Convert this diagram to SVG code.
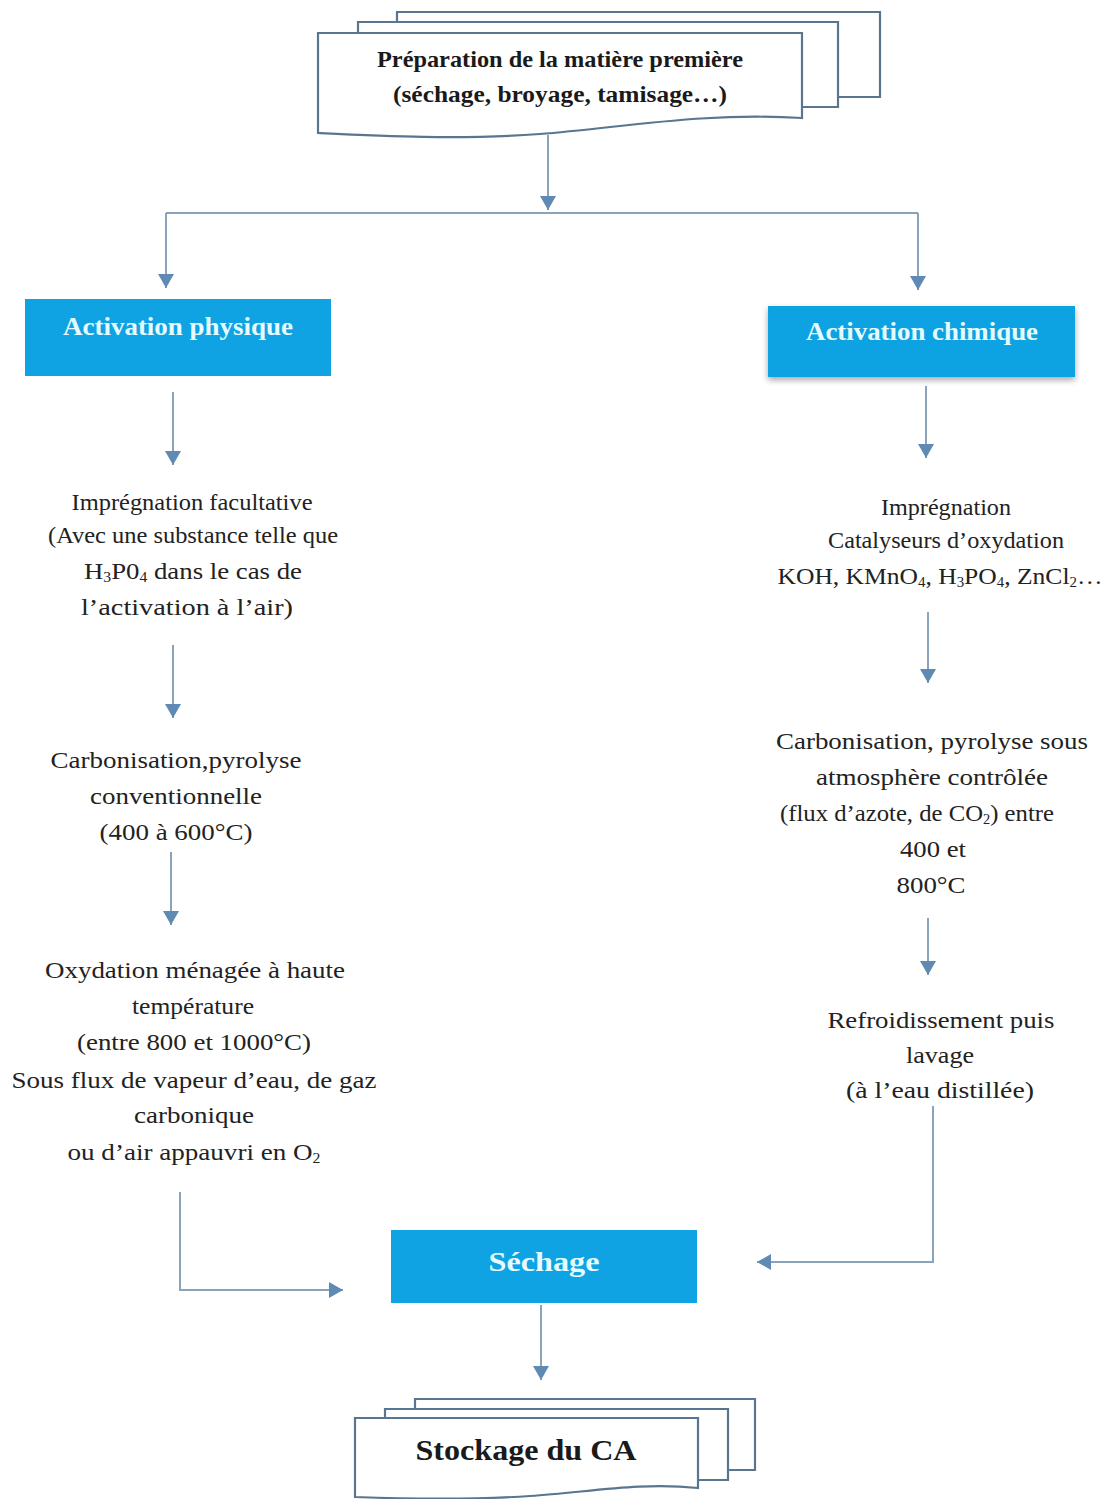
<svg xmlns="http://www.w3.org/2000/svg" width="1106" height="1499" viewBox="0 0 1106 1499">
<style>
.doc{fill:#fff;stroke:#5a7590;stroke-width:2.2}
.box{fill:#0fa3e3}
.ttl{font-family:"Liberation Serif",serif;font-weight:bold;fill:#e6fbff;text-anchor:middle}
.dt{font-family:"Liberation Serif",serif;font-weight:bold;fill:#1a1a1a;text-anchor:middle}
.t{font-family:"Liberation Serif",serif;font-size:24px;fill:#222;text-anchor:middle}
.sub{font-size:14px}
.c{fill:none;stroke:#8aa3bb;stroke-width:2}
</style>
<defs>
<marker id="a" viewBox="0 0 10 10" refX="10" refY="5" markerWidth="14" markerHeight="16" markerUnits="userSpaceOnUse" orient="auto" preserveAspectRatio="none">
<path d="M0,0 L10,5 L0,10 z" fill="#5f8ab3"/>
</marker>
<filter id="sh" x="-10%" y="-20%" width="120%" height="150%">
<feDropShadow dx="0" dy="3" stdDeviation="3" flood-color="#000" flood-opacity="0.35"/>
</filter>
</defs>
<rect width="1106" height="1499" fill="#fff"/>

<g id="node-preparation">
<path class="doc" d="M397,22 V12 H880 V97 H838"/>
<path class="doc" d="M358,33 V22 H838 V107 H802"/>
<path class="doc" d="M318,33 H802 V118 C700,112 620,128 540,134 C460,140 380,136 318,133 Z"/>
<text class="dt" x="560" y="67" font-size="24" textLength="366" lengthAdjust="spacingAndGlyphs">Préparation de la matière première</text>
<text class="dt" x="560" y="102" font-size="24" textLength="334" lengthAdjust="spacingAndGlyphs">(séchage, broyage, tamisage…)</text>
</g>

<g id="node-activation-physique">
<rect class="box" x="25" y="299" width="306" height="77"/>
<text class="ttl" x="178" y="335" font-size="25" textLength="230" lengthAdjust="spacingAndGlyphs">Activation physique</text>
</g>

<g id="node-activation-chimique">
<rect class="box" x="768" y="306" width="307" height="71" filter="url(#sh)"/>
<text class="ttl" x="922" y="340" font-size="25" textLength="232" lengthAdjust="spacingAndGlyphs">Activation chimique</text>
</g>

<g id="node-impregnation-facultative">
<text class="t" x="192" y="510" textLength="241" lengthAdjust="spacingAndGlyphs">Imprégnation facultative</text>
<text class="t" x="193" y="543" textLength="290" lengthAdjust="spacingAndGlyphs">(Avec une substance telle que</text>
<text class="t" x="193" y="579" textLength="218" lengthAdjust="spacingAndGlyphs">H<tspan class="sub" dy="3">3</tspan><tspan dy="-3">P0</tspan><tspan class="sub" dy="3">4</tspan><tspan dy="-3"> dans le cas de</tspan></text>
<text class="t" x="187" y="615" textLength="212" lengthAdjust="spacingAndGlyphs">l’activation à l’air)</text>
</g>

<g id="node-carbonisation-conv">
<text class="t" x="176" y="768" textLength="251" lengthAdjust="spacingAndGlyphs">Carbonisation,pyrolyse</text>
<text class="t" x="176" y="804" textLength="172" lengthAdjust="spacingAndGlyphs">conventionnelle</text>
<text class="t" x="176" y="840" textLength="153" lengthAdjust="spacingAndGlyphs">(400 à 600°C)</text>
</g>

<g id="node-oxydation">
<text class="t" x="195" y="978" textLength="300" lengthAdjust="spacingAndGlyphs">Oxydation ménagée à haute</text>
<text class="t" x="193" y="1014" textLength="122" lengthAdjust="spacingAndGlyphs">température</text>
<text class="t" x="194" y="1050" textLength="234" lengthAdjust="spacingAndGlyphs">(entre 800 et 1000°C)</text>
<text class="t" x="194" y="1088" textLength="365" lengthAdjust="spacingAndGlyphs">Sous flux de vapeur d’eau, de gaz</text>
<text class="t" x="194" y="1123" textLength="120" lengthAdjust="spacingAndGlyphs">carbonique</text>
<text class="t" x="194" y="1160" textLength="253" lengthAdjust="spacingAndGlyphs">ou d’air appauvri en O<tspan class="sub" dy="3">2</tspan></text>
</g>

<g id="node-impregnation">
<text class="t" x="946" y="515" textLength="130" lengthAdjust="spacingAndGlyphs">Imprégnation</text>
<text class="t" x="946" y="548" textLength="236" lengthAdjust="spacingAndGlyphs">Catalyseurs d’oxydation</text>
<text class="t" x="940" y="584" textLength="325" lengthAdjust="spacingAndGlyphs">KOH, KMnO<tspan class="sub" dy="3">4</tspan><tspan dy="-3">, H</tspan><tspan class="sub" dy="3">3</tspan><tspan dy="-3">PO</tspan><tspan class="sub" dy="3">4</tspan><tspan dy="-3">, ZnCl</tspan><tspan class="sub" dy="3">2</tspan><tspan dy="-3">…</tspan></text>
</g>

<g id="node-carbonisation-ctrl">
<text class="t" x="932" y="749" textLength="312" lengthAdjust="spacingAndGlyphs">Carbonisation, pyrolyse sous</text>
<text class="t" x="932" y="785" textLength="232" lengthAdjust="spacingAndGlyphs">atmosphère contrôlée</text>
<text class="t" x="917" y="821" textLength="274" lengthAdjust="spacingAndGlyphs">(flux d’azote, de CO<tspan class="sub" dy="3">2</tspan><tspan dy="-3">) entre</tspan></text>
<text class="t" x="933" y="857" textLength="66" lengthAdjust="spacingAndGlyphs">400 et</text>
<text class="t" x="931" y="893" textLength="69" lengthAdjust="spacingAndGlyphs">800°C</text>
</g>

<g id="node-refroidissement">
<text class="t" x="941" y="1028" textLength="227" lengthAdjust="spacingAndGlyphs">Refroidissement puis</text>
<text class="t" x="940" y="1063" textLength="68" lengthAdjust="spacingAndGlyphs">lavage</text>
<text class="t" x="940" y="1098" textLength="188" lengthAdjust="spacingAndGlyphs">(à l’eau distillée)</text>
</g>

<g id="node-sechage">
<rect class="box" x="391" y="1230" width="306" height="73"/>
<text class="ttl" x="544" y="1271" font-size="28" textLength="111" lengthAdjust="spacingAndGlyphs">Séchage</text>
</g>

<g id="node-stockage">
<path class="doc" d="M415,1408 V1399 H755 V1470 H728"/>
<path class="doc" d="M385,1418 V1409 H728 V1480 H698"/>
<path class="doc" d="M355,1418 H698 V1488 C640,1482 590,1492 530,1496 C470,1500 410,1499 355,1497 Z"/>
<text class="dt" x="526" y="1460" font-size="29" textLength="221" lengthAdjust="spacingAndGlyphs">Stockage du CA</text>
</g>

<g id="connectors">
<path class="c" d="M548,135 V210" marker-end="url(#a)"/>
<path class="c" d="M166,213 H918"/>
<path class="c" d="M166,213 V288" marker-end="url(#a)"/>
<path class="c" d="M918,213 V290" marker-end="url(#a)"/>
<path class="c" d="M173,392 V465" marker-end="url(#a)"/>
<path class="c" d="M173,645 V718" marker-end="url(#a)"/>
<path class="c" d="M171,852 V925" marker-end="url(#a)"/>
<path class="c" d="M180,1192 V1290 H343" marker-end="url(#a)"/>
<path class="c" d="M926,386 V458" marker-end="url(#a)"/>
<path class="c" d="M928,612 V683" marker-end="url(#a)"/>
<path class="c" d="M928,918 V975" marker-end="url(#a)"/>
<path class="c" d="M933,1106 V1262 H757" marker-end="url(#a)"/>
<path class="c" d="M541,1305 V1380" marker-end="url(#a)"/>
</g>
</svg>
